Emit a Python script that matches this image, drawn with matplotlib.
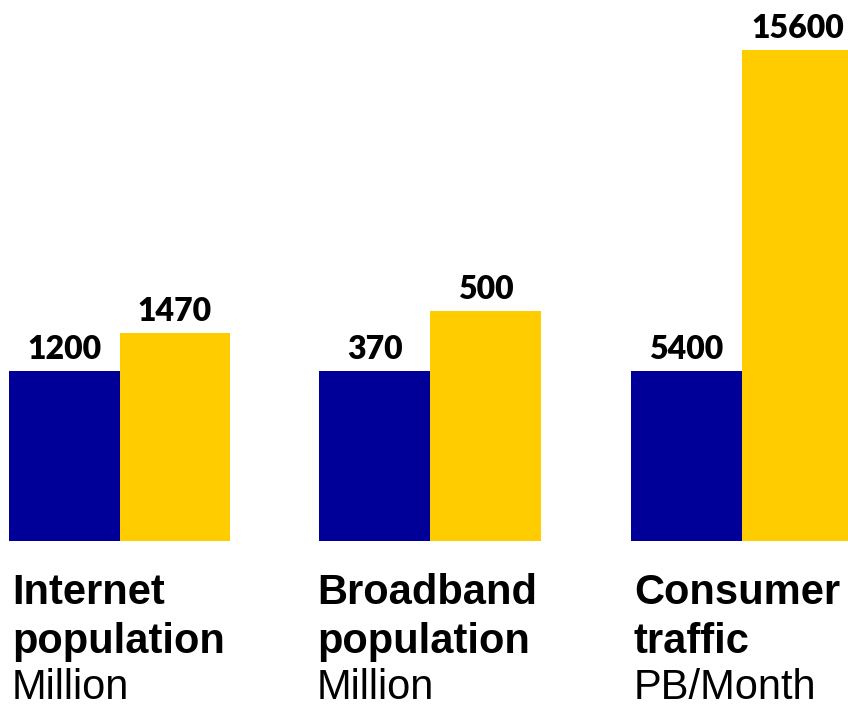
import matplotlib
matplotlib.use("Agg")
import matplotlib.pyplot as plt

# Metrics, each with a "before" (blue) and "after" (yellow) value
metrics = ["Internet\npopulation", "Broadband\npopulation", "Consumer\ntraffic"]
units = ["Million", "Million", "PB/Month"]
before = [1200, 370, 5400]
after = [1470, 500, 15600]

BLUE = "#000099"
YELLOW = "#FFCC00"

W, H = 848, 709
fig = plt.figure(figsize=(W / 100, H / 100), dpi=100)

# Pixel layout of each group: left edge and total width of its two bars
group_left = [9, 319, 631]
group_width = [221, 222, 222]
label_left = [12, 317, 634]
base_y = 541          # bar baseline (pixels from top)
blue_px = 170         # height of the reference (blue) bar in every group

for i in range(len(metrics)):
    ax = fig.add_axes([group_left[i] / W, (H - base_y) / H,
                       group_width[i] / W, base_y / H])
    ax.set_xlim(-0.5, 1.5)
    # each group has its own scale, so the blue bar spans the same height
    ax.set_ylim(0, before[i] * base_y / blue_px)
    vals = [before[i], after[i]]
    ax.bar([0, 1], vals, width=1.0, color=[BLUE, YELLOW], linewidth=0)
    for x, v in zip([0, 1], vals):
        ax.annotate(f"{v}", (x, v), xytext=(0, 8.5), textcoords="offset points",
                    ha="center", va="baseline", fontsize=23,
                    fontweight="heavy", family="Lato", color="black")
    ax.axis("off")

    # category labels below the bars
    tx = label_left[i] / W
    line1, line2 = metrics[i].split("\n")
    fig.text(tx, 1 - 604 / H, line1, fontsize=30,
             fontweight="bold", family="Liberation Sans", va="baseline")
    fig.text(tx, 1 - 653 / H, line2, fontsize=30,
             fontweight="bold", family="Liberation Sans", va="baseline")
    fig.text(tx, 1 - 699 / H, units[i], fontsize=30,
             family="Liberation Sans", va="baseline")

fig.savefig("out.png", dpi=100, facecolor="white")
